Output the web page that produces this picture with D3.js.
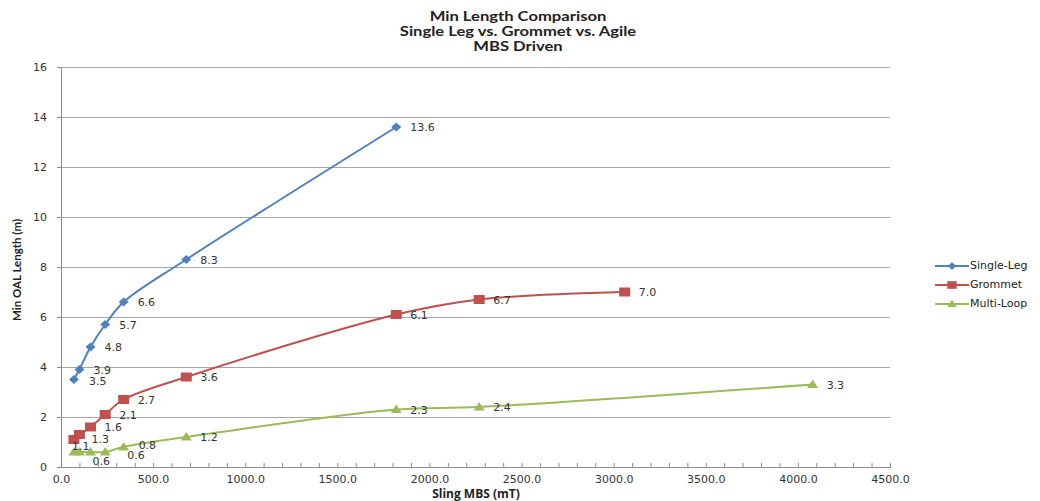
<!DOCTYPE html>
<html>
<head>
<meta charset="utf-8">
<script src="https://cdn.jsdelivr.net/npm/d3@7/dist/d3.min.js"></script>
<style>
  html, body { margin: 0; padding: 0; background: #fff; }
  svg { display: block; }
</style>
</head>
<body>
<svg id="chart" width="1040" height="501"></svg>
<script>
// Sling MBS (mT) for each test point
const mbsSingleLeg = [70, 100, 160, 240, 340, 680, 1820];
const mbsGrommet   = [70, 100, 160, 240, 340, 680, 1820, 2270, 3060];
const mbsMultiLoop = [70, 100, 160, 240, 340, 680, 1820, 2270, 4080];

// Minimum OAL length (m)
const lenSingleLeg = [3.5, 3.9, 4.8, 5.7, 6.6, 8.3, 13.6];
const lenGrommet   = [1.1, 1.3, 1.6, 2.1, 2.7, 3.6, 6.1, 6.7, 7.0];
const lenMultiLoop = [0.6, 0.6, 0.6, 0.6, 0.8, 1.2, 2.3, 2.4, 3.3];

const seriesNames = ["Single-Leg", "Grommet", "Multi-Loop"];
const titleLines = ["Min Length Comparison", "Single Leg vs. Grommet vs. Agile", "MBS Driven"];
const xTicks = [0, 500, 1000, 1500, 2000, 2500, 3000, 3500, 4000, 4500];
const yTicks = [0, 2, 4, 6, 8, 10, 12, 14, 16];

const series = [
  { name: seriesNames[0], x: mbsSingleLeg, y: lenSingleLeg, color: "#4F81BD", marker: "diamond" },
  { name: seriesNames[1], x: mbsGrommet,   y: lenGrommet,   color: "#C0504D", marker: "square" },
  { name: seriesNames[2], x: mbsMultiLoop, y: lenMultiLoop, color: "#9BBB59", marker: "triangle" }
];

// label placement tweaks where labels would collide in the crowded low end
const labelTweaks = {
  "Single-Leg-0": { dx: 15, dy: 2 },
  "Grommet-0":    { dx: -2, dy: 7 },
  "Grommet-1":    { dx: 12, dy: 5 },
  "Multi-Loop-0": { hide: true },
  "Multi-Loop-1": { hide: true },
  "Multi-Loop-2": { dx: 2, dy: 10 },
  "Multi-Loop-3": { dx: 22, dy: 4 },
  "Multi-Loop-4": { dx: 15, dy: -1 }
};

const svg = d3.select("#chart");
const plot = { left: 61, right: 890, top: 67, bottom: 467 };

const x = d3.scaleLinear().domain([0, 4500]).range([plot.left, plot.right]);
const y = d3.scaleLinear().domain([0, 16]).range([plot.bottom, plot.top]);

const tickFont = "DejaVu Sans, Verdana, sans-serif";
const titleFont = "'Open Sans', Lato, sans-serif";

// horizontal gridlines
svg.append("g")
  .selectAll("line")
  .data(yTicks.filter(d => d > 0))
  .join("line")
  .attr("x1", plot.left).attr("x2", plot.right)
  .attr("y1", d => y(d)).attr("y2", d => y(d))
  .attr("stroke", "#a6a6a6").attr("stroke-width", 1)
  .attr("shape-rendering", "crispEdges");

// y axis
const yAxis = svg.append("g")
  .attr("transform", `translate(${plot.left},0)`)
  .call(d3.axisLeft(y).tickValues(yTicks).tickSize(4).tickPadding(10).tickFormat(d3.format("d")));
yAxis.select(".domain").attr("stroke", "#8c8c8c").attr("shape-rendering", "crispEdges");
yAxis.selectAll(".tick line").attr("stroke", "#8c8c8c");
yAxis.selectAll("text").attr("font-family", tickFont).attr("font-size", 11).attr("fill", "#333");

// x axis: minor ticks every 100, major every 500, both pointing inward
const xMinor = svg.append("g")
  .attr("transform", `translate(0,${plot.bottom})`)
  .call(d3.axisBottom(x).tickValues(d3.range(0, 4501, 100)).tickSize(-4).tickFormat(""));
xMinor.select(".domain").attr("stroke", "#8c8c8c").attr("shape-rendering", "crispEdges");
xMinor.selectAll(".tick line").attr("stroke", "#8c8c8c");

const xAxis = svg.append("g")
  .attr("transform", `translate(0,${plot.bottom})`)
  .call(d3.axisBottom(x).tickValues(xTicks).tickSize(0).tickPadding(8).tickFormat(d3.format(".1f")));
xAxis.select(".domain").remove();
xAxis.selectAll("text").attr("font-family", tickFont).attr("font-size", 11).attr("fill", "#333");

// three-line chart title, set in a slightly widened face
svg.append("g").selectAll("text")
  .data(titleLines)
  .join("text")
  .attr("transform", (d, i) => `translate(518,${21 + i * 15}) scale(1.33,1)`)
  .attr("text-anchor", "middle")
  .attr("font-family", "Lato, sans-serif").attr("font-weight", "bold").attr("font-size", 12.5)
  .attr("fill", "#222")
  .text(d => d);

svg.append("text")
  .attr("x", 476).attr("y", 498)
  .attr("text-anchor", "middle")
  .attr("font-family", titleFont).attr("font-weight", "bold").attr("font-size", 12)
  .attr("fill", "#222")
  .text("Sling MBS (mT)");

svg.append("text")
  .attr("transform", `translate(21,${(plot.top + plot.bottom) / 2 + 3}) rotate(-90)`)
  .attr("text-anchor", "middle")
  .attr("font-family", "Lato, sans-serif").attr("font-weight", "bold").attr("font-size", 11.5)
  .attr("fill", "#222")
  .text("Min OAL Length (m)");

// marker shapes (slightly wider than tall)
const markerPath = {
  diamond: "M0,-4.5L5,0L0,4.5L-5,0Z",
  square: "M-5.5,-4.5H5.5V4.5H-5.5Z",
  triangle: "M0,-5L5.5,3.5H-5.5Z"
};

const line = d3.line()
  .x(d => x(d[0])).y(d => y(d[1]))
  .curve(d3.curveCatmullRom.alpha(0.5));

series.forEach(s => {
  const pts = s.x.map((v, i) => [v, s.y[i]]);
  const g = svg.append("g");
  g.append("path")
    .attr("d", line(pts))
    .attr("fill", "none")
    .attr("stroke", s.color)
    .attr("stroke-width", 2);
  g.selectAll("path.mk")
    .data(pts)
    .join("path")
    .attr("class", "mk")
    .attr("d", markerPath[s.marker])
    .attr("transform", d => `translate(${x(d[0])},${y(d[1])})`)
    .attr("fill", s.color);
});

// data labels drawn on top of all series
series.forEach(s => {
  const pts = s.x.map((v, i) => ({ i, x: v, y: s.y[i] }));
  svg.append("g").selectAll("text")
    .data(pts.filter(d => !(labelTweaks[`${s.name}-${d.i}`] || {}).hide))
    .join("text")
    .attr("x", d => x(d.x) + ((labelTweaks[`${s.name}-${d.i}`] || {}).dx ?? 14))
    .attr("y", d => y(d.y) + ((labelTweaks[`${s.name}-${d.i}`] || {}).dy ?? 1))
    .attr("dominant-baseline", "middle")
    .attr("font-family", tickFont).attr("font-size", 11)
    .attr("fill", "#333")
    .text(d => d3.format(".1f")(d.y));
});

// legend
const legend = svg.append("g").attr("transform", "translate(935,266)");
series.forEach((s, i) => {
  const row = legend.append("g").attr("transform", `translate(0,${i * 19})`);
  row.append("line").attr("x1", 0).attr("x2", 34).attr("y1", 0).attr("y2", 0)
    .attr("stroke", s.color).attr("stroke-width", 2);
  row.append("path").attr("d", markerPath[s.marker])
    .attr("transform", "translate(17,0) scale(0.85)").attr("fill", s.color);
  row.append("text").attr("x", 35).attr("y", 0)
    .attr("dominant-baseline", "middle")
    .attr("font-family", tickFont).attr("font-size", 11).attr("fill", "#222")
    .text(s.name);
});
</script>
</body>
</html>
